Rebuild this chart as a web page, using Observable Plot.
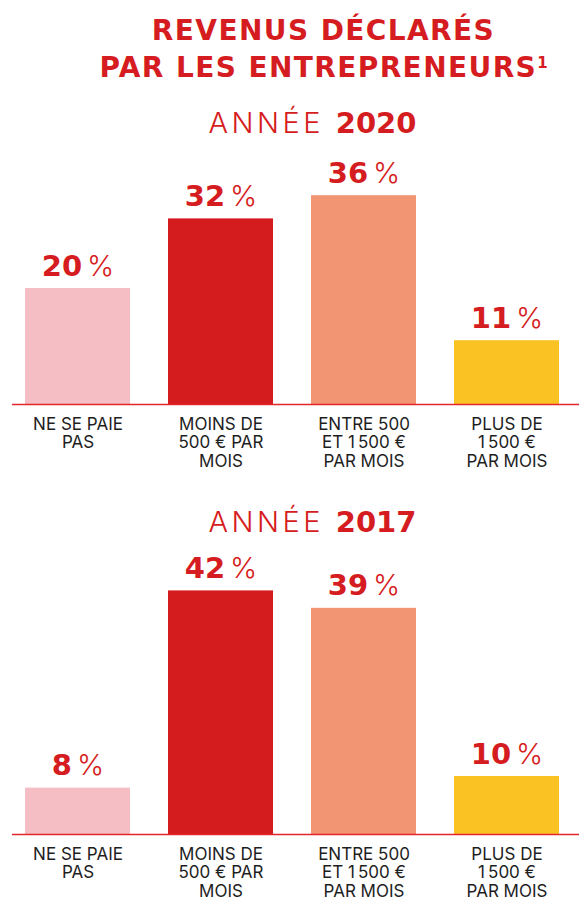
<!DOCTYPE html>
<html><head><meta charset="utf-8">
<script src="https://cdn.jsdelivr.net/npm/d3@7"></script>
<script src="https://cdn.jsdelivr.net/npm/@observablehq/plot@0.6"></script>
<style>
body{margin:0;background:#fff;width:579px;height:897px;position:relative;overflow:hidden;font-family:Inter,"Open Sans",sans-serif;}
.t{position:absolute;width:579px;text-align:center;color:#d51c20;white-space:nowrap;}
.title{font-family:"DejaVu Sans",sans-serif;font-size:28px;font-weight:700;line-height:28px;left:34px;letter-spacing:1.4px;}
.title sup{font-size:15px;vertical-align:9px;line-height:0;letter-spacing:0;}
.sub{font-size:29px;line-height:29px;left:23px;}
.sub .l{font-family:Inter,sans-serif;font-weight:300;letter-spacing:3.5px;}
.sub .b{font-family:"DejaVu Sans",sans-serif;font-weight:700;}
.chart{position:absolute;left:0;}
</style></head><body>
<div class="t title" style="top:17px">REVENUS DÉCLARÉS</div>
<div class="t title" style="top:54px">PAR LES ENTREPRENEURS<sup>1</sup></div>
<div class="t sub" style="top:108px"><span class="l">ANNÉE </span><span class="b">2020</span></div>
<div class="chart" id="c1" style="top:145px"></div>
<div class="t sub" style="top:507px"><span class="l">ANNÉE </span><span class="b">2017</span></div>
<div class="chart" id="c2" style="top:545px"></div>
<script>
const categories = ["NE SE PAIE PAS", "MOINS DE 500 € PAR MOIS", "ENTRE 500 ET 1 500 € PAR MOIS", "PLUS DE 1 500 € PAR MOIS"];
const tickLabels = ["NE SE PAIE\nPAS", "MOINS DE\n500 € PAR\nMOIS", "ENTRE 500\nET 1\u2009500 €\nPAR MOIS", "PLUS DE\n1\u2009500 €\nPAR MOIS"];
const values2020 = [20, 32, 36, 11];
const values2017 = [8, 42, 39, 10];
const colors = ["#f5bec4", "#d41b1d", "#f29572", "#fbc223"];
const red = "#d51c20";

function chart(values, yMax, height, marginTop, marginBottom) {
  const data = categories.map((c, i) => ({cat: c, value: values[i], label: tickLabels[i]}));
  const svg = Plot.plot({
    width: 579,
    height,
    marginTop,
    marginBottom,
    marginLeft: 12,
    marginRight: 0,
    style: {fontFamily: "Inter, 'Open Sans', sans-serif", background: "white"},
    x: {domain: categories, range: [24.6, 558.9], paddingInner: 0.266, paddingOuter: 0, axis: null},
    y: {domain: [0, yMax], axis: null},
    color: {domain: categories, range: colors},
    marks: [
      Plot.barY(data, {x: "cat", y: "value", fill: "cat"}),
      Plot.ruleY([0], {stroke: "#e3262c", strokeWidth: 1.5}),
      Plot.text(data, {x: "cat", y: "value", text: d => d.value + " %", dy: -13, lineAnchor: "bottom", fill: red, fontSize: 29, fontWeight: 700, className: "vlab"}),
      Plot.text(data, {x: "cat", frameAnchor: "bottom", text: "label", dy: 12, lineAnchor: "top", lineHeight: 1.1, fill: "#1e1e1e", fontSize: 17})
    ]
  });
  svg.querySelectorAll(".vlab text").forEach(t => {
    const s = t.textContent;
    const n = s.split(" ")[0];
    t.textContent = "";
    const a = document.createElementNS("http://www.w3.org/2000/svg", "tspan");
    a.setAttribute("font-weight", "700");
    a.setAttribute("font-family", "DejaVu Sans");
    a.textContent = n;
    const b = document.createElementNS("http://www.w3.org/2000/svg", "tspan");
    b.setAttribute("font-weight", "300");
    b.setAttribute("dx", "5");
    b.textContent = "%";
    t.appendChild(a); t.appendChild(b);
  });
  return svg;
}
document.getElementById("c1").appendChild(chart(values2020, 40, 329, 27, 70));
document.getElementById("c2").appendChild(chart(values2017, 45, 352, 28, 63));
</script>
</body></html>
